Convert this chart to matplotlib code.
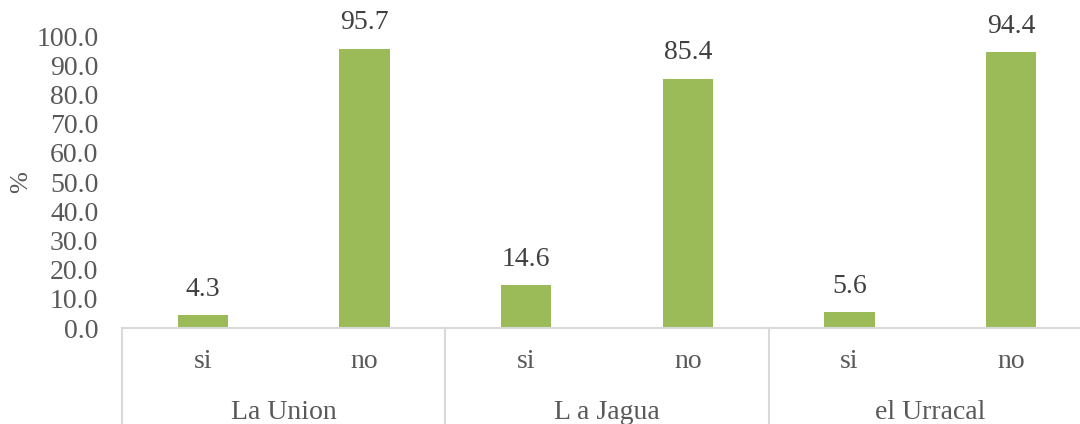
import numpy as np
import matplotlib
matplotlib.use("Agg")
import matplotlib.pyplot as plt
import matplotlib.transforms as mtransforms

# data
groups = ["La Union", "L a Jagua", "el Urracal"]
answers = ["si", "no"]
values = [4.3, 95.7, 14.6, 85.4, 5.6, 94.4]

plt.rcParams["font.family"] = ["Liberation Serif", "DejaVu Serif"]
text_color = "#595959"
label_color = "#404040"
line_color = "#D9D9D9"
bar_color = "#9BBB59"
fs = 20

W, H = 1080, 424
fig = plt.figure(figsize=(W / 100, H / 100), dpi=100)
# plot area runs past the right border, as in the reference
ax = fig.add_axes([122 / W, (H - 328) / H, 970 / W, 292 / H])

x = np.arange(len(values))
bars = ax.bar(x, values, width=0.31, color=bar_color, zorder=2)
for b, v in zip(bars, values):
    ax.text(b.get_x() + b.get_width() / 2, v + 4.5, "%.1f" % v,
            ha="center", va="bottom", fontsize=fs, color=label_color)

ax.set_xlim(-0.5, len(values) - 0.5)
ax.set_ylim(0, 100)
ax.set_yticks(np.arange(0, 101, 10))
ax.set_yticklabels(["%.1f" % t for t in np.arange(0, 101, 10)])
ax.tick_params(axis="y", length=0, pad=17, labelsize=fs, labelcolor=text_color)

ax.set_xticks(x)
ax.set_xticklabels(answers * len(groups))
ax.tick_params(axis="x", length=0, pad=15, labelsize=fs, labelcolor=text_color)

for s in ["top", "right", "left"]:
    ax.spines[s].set_visible(False)
ax.spines["bottom"].set_color(line_color)
ax.spines["bottom"].set_linewidth(1.5)

# group separators and group labels
trans = mtransforms.blended_transform_factory(ax.transData, ax.transAxes)
n = len(answers)
for i in range(len(groups) + 1):
    xs = i * n - 0.5
    ax.plot([xs, xs], [0, -0.4], transform=trans, color=line_color,
            lw=1.5, clip_on=False)
for i, g in enumerate(groups):
    ax.text(i * n + (n - 1) / 2, -0.29, g, transform=trans, ha="center",
            va="center", fontsize=fs, color=text_color)

ax.set_ylabel("%", fontsize=19, color=text_color, va="center")
ax.yaxis.set_label_coords(-0.104, 0.5)

fig.savefig("out.png", dpi=100)
